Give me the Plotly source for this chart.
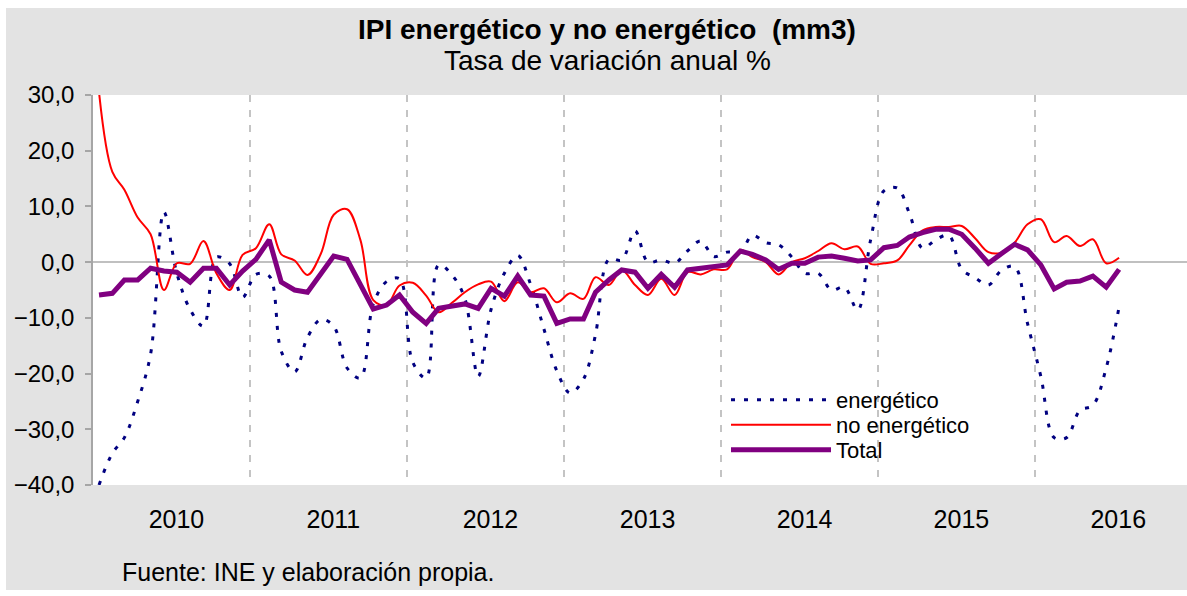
import pandas as pd
import plotly.graph_objects as go

# Monthly categories Jan 2010 - Jul 2016 (points centred in each month)
months = pd.date_range("2010-01-01", periods=79, freq="MS") + pd.Timedelta(days=14)

energetico = [
    -40.0, -34.3, -31.5, -25.0, -16.5, 9.0, -2.0, -8.5, -11.5, 0.9, -0.3, -6.3,
    -2.2, -2.5, -16.0, -19.7, -13.5, -10.3, -11.5, -19.0, -20.8, -7.5, -3.5, -3.0,
    -18.0, -20.8, -0.5, -2.3, -6.5, -20.5, -8.5, -2.0, 1.2, -4.0, -12.0, -19.5,
    -23.5, -21.0, -13.0, 0.5, 0.4, 5.6, 0.0, 0.4, -0.2, 2.0, 3.8, 1.0,
    1.8, 1.8, 4.8, 3.5, 3.1, 0.9, -2.0, -2.0, -5.0, -4.5, -8.6, 4.0,
    12.8, 13.3, 8.8, 2.5, 4.0, 4.8, -1.3, -2.8, -4.1, -1.5, -0.8, -11.0,
    -20.5, -31.5, -31.5, -26.6, -25.7, -19.0, -8.0,
]

no_energetico = [
    30.5, 16.2, 13.0, 8.0, 5.0, -5.0, -0.2, -0.3, 3.8, -2.0, -5.0, 1.3,
    2.5, 6.8, 1.4, 0.3, -2.3, 1.5, 8.5, 9.5, 4.0, -6.8, -7.7, -4.2,
    -3.7, -6.0, -9.0, -7.3, -5.4, -4.0, -3.5, -7.0, -3.6, -5.4, -4.7, -7.2,
    -5.6, -6.6, -2.7, -4.1, -1.4, -4.1, -5.9, -3.0, -5.9, -1.8, -2.2, -1.3,
    -1.3, 2.2, 0.9, 0.0, -2.2, 0.0, 0.7, 2.0, 3.4, 2.3, 2.8, -0.3,
    -0.2, 0.3, 3.0, 5.7, 6.3, 6.3, 6.5, 4.3, 1.8, 1.7, 3.5, 6.8,
    7.7, 3.6, 4.7, 2.9, 4.1, -0.2, 0.8,
]

total = [
    -5.9, -5.6, -3.2, -3.2, -1.1, -1.6, -1.8, -3.6, -1.1, -1.1, -4.1, -1.6,
    0.5, 4.0, -3.6, -5.0, -5.4, -2.0, 1.1, 0.5, -3.8, -8.4, -7.7, -5.9,
    -9.0, -11.0, -8.3, -7.9, -7.5, -8.3, -4.7, -6.1, -2.5, -5.9, -6.1, -11.0,
    -10.2, -10.2, -5.4, -3.2, -1.4, -1.8, -4.7, -2.2, -4.5, -1.4, -1.1, -0.9,
    -0.5, 2.0, 1.4, 0.4, -1.3, -0.2, -0.2, 0.9, 1.1, 0.7, 0.2, 0.4,
    2.6, 3.0, 4.5, 5.3, 5.9, 5.9, 5.0, 2.5, -0.2, 1.5, 3.2, 2.2,
    -0.5, -4.8, -3.6, -3.4, -2.5, -4.5, -1.3,
]

y_ticks = [30, 20, 10, 0, -10, -20, -30, -40]

W, H = 1187, 596
L, R, T, B = 93, 0, 95, 111
pw, ph = W - L - R, H - T - B

def px_x(x):
    return (x - L) / pw

def px_y(y):
    return (H - B - y) / ph

FONT = "Liberation Sans, Arial, sans-serif"

fig = go.Figure()
fig.add_trace(go.Scatter(
    x=months, y=energetico, name="energético", mode="lines", legend="legend",
    line=dict(color="#000080", width=3, dash="4px,9px", shape="spline", smoothing=1.0),
))
fig.add_trace(go.Scatter(
    x=months, y=no_energetico, name="no energético", mode="lines", legend="legend2",
    line=dict(color="#ff0000", width=2, shape="spline", smoothing=1.0),
))
fig.add_trace(go.Scatter(
    x=months, y=total, name="Total", mode="lines", legend="legend3",
    line=dict(color="#800080", width=5),
))

def leg(ycenter):
    return dict(
        x=px_x(726), y=px_y(ycenter), xanchor="left", yanchor="middle",
        bgcolor="rgba(0,0,0,0)", font=dict(size=22, family=FONT),
        itemwidth=100, borderwidth=0,
    )

fig.update_layout(
    width=W, height=H,
    margin=dict(l=L, r=R, t=T, b=B),
    paper_bgcolor="white",
    plot_bgcolor="rgba(0,0,0,0)",
    font=dict(family=FONT, color="black"),
    showlegend=True,
    legend=leg(400), legend2=leg(425), legend3=leg(450),
    shapes=[
        dict(type="rect", xref="paper", yref="paper", layer="below",
             x0=px_x(6), x1=1.01, y0=px_y(590), y1=px_y(8),
             fillcolor="#e3e3e3", line=dict(width=0)),
        dict(type="rect", xref="paper", yref="paper", layer="below",
             x0=0, x1=1.01, y0=0, y1=1,
             fillcolor="white", line=dict(width=0)),
    ],
    annotations=[
        dict(text="<b>IPI energético y no energético  (mm3)</b>", xref="paper", yref="paper",
             x=px_x(607), y=px_y(30), xanchor="center", yanchor="middle",
             showarrow=False, font=dict(size=28, family=FONT)),
        dict(text="Tasa de variación anual %", xref="paper", yref="paper",
             x=px_x(607), y=px_y(60), xanchor="center", yanchor="middle",
             showarrow=False, font=dict(size=28, family=FONT)),
        dict(text="Fuente: INE y elaboración propia.", xref="paper", yref="paper",
             x=px_x(120), y=px_y(572), xanchor="left", yanchor="middle",
             showarrow=False, font=dict(size=25, family=FONT)),
    ],
    separators=",.",
)

fig.update_xaxes(
    type="date",
    range=["2010-01-01", "2016-12-20"],
    dtick="M12", tick0="2010-01-01",
    tickformat="%Y", ticklabelmode="period",
    ticklabelshift=5, ticklabelstandoff=17,
    showgrid=True, gridcolor="#c4c4c4", gridwidth=1.5, griddash="7px,8px",
    showline=False, zeroline=False, ticks="",
    tickfont=dict(size=25, family=FONT),
)
fig.update_yaxes(
    range=[-40, 30], tickvals=y_ticks, tickformat=".1f",
    showgrid=False, zeroline=True, zerolinecolor="#c0c0c0", zerolinewidth=1.5,
    showline=True, linecolor="#a6a6a6", linewidth=1.5,
    ticks="outside", ticklen=6, tickcolor="#a6a6a6", tickwidth=1.5,
    ticklabelstandoff=6,
    tickfont=dict(size=24, family=FONT),
)

fig.write_html("out.html", post_script="document.body.style.margin='0';",
               config={"displayModeBar": False})
